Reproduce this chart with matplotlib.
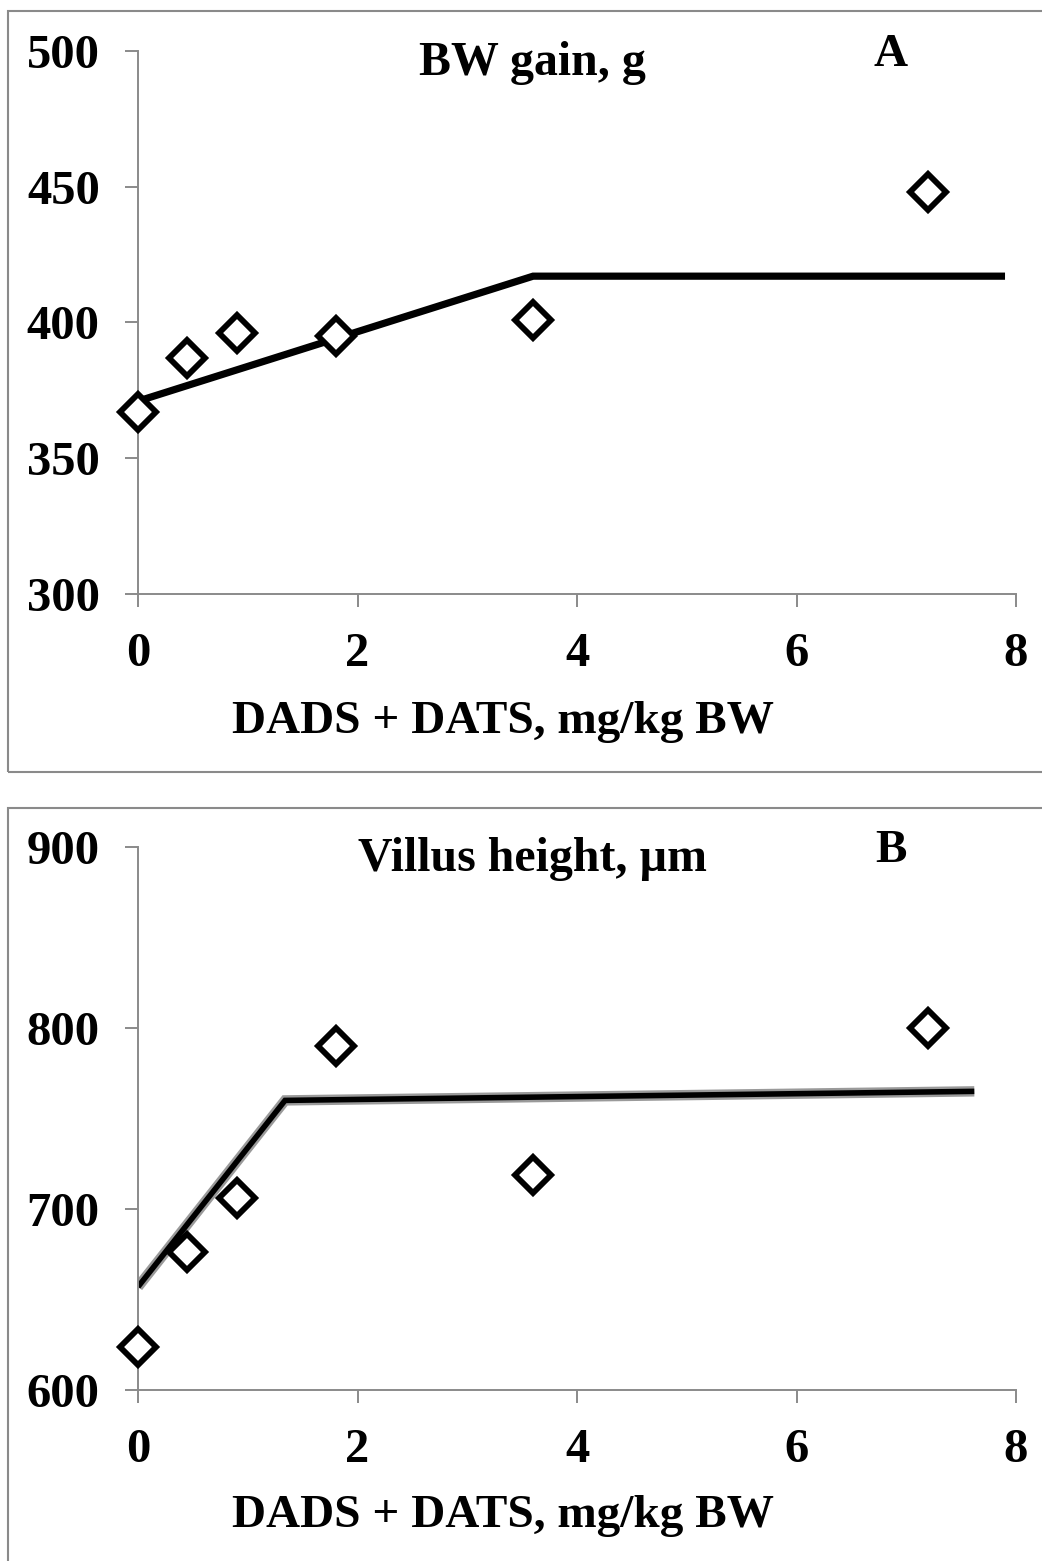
import matplotlib
matplotlib.use("Agg")
import matplotlib.pyplot as plt
from matplotlib.patches import Rectangle

# ---------------- data ----------------
dose = [0, 0.45, 0.9, 1.8, 3.6, 7.2]
bw_gain = [367, 387, 396, 395, 401, 448]
villus = [624, 676, 706, 790, 719, 800]

bw_fit_x = [0, 3.6, 7.9]
bw_fit_y = [371, 417, 417]
vh_fit_x = [0, 1.34, 7.62]
vh_fit_y = [657, 760, 765]

x_ticks = [0, 2, 4, 6, 8]
bw_ticks = [300, 350, 400, 450, 500]
vh_ticks = [600, 700, 800, 900]

xlabel = "DADS + DATS, mg/kg BW"
title_a = "BW gain, g"
title_b = "Villus height, µm"

# ---------------- figure ----------------
W, H = 1042, 1561
fig = plt.figure(figsize=(W / 100, H / 100), dpi=100)
FONT = "Liberation Serif"
GRAY = "#8a8a8a"

def fx(px):
    return px / W

def fy(py):
    return 1 - py / H

def make_axes(top_px, bottom_px):
    ax = fig.add_axes([fx(138), fy(bottom_px), fx(1016) - fx(138), fy(top_px) - fy(bottom_px)])
    for s in ("top", "right"):
        ax.spines[s].set_visible(False)
    for s in ("left", "bottom"):
        ax.spines[s].set_color(GRAY)
        ax.spines[s].set_linewidth(1.4)
    ax.tick_params(direction="out", length=9.5, width=1.4, color=GRAY,
                   labelsize=35, pad=18)
    ax.set_xlim(0, 8)
    ax.set_xticks(x_ticks)
    return ax

def style_ticks(ax):
    for lab in ax.get_xticklabels() + ax.get_yticklabels():
        lab.set_fontfamily(FONT)
        lab.set_fontweight("bold")

# Panel borders
fig.patches.append(Rectangle((fx(8), fy(772)), 1.2, fy(11) - fy(772),
                             transform=fig.transFigure, fill=False,
                             edgecolor=GRAY, linewidth=1.5))
fig.patches.append(Rectangle((fx(8), -0.1), 1.2, fy(808) + 0.1,
                             transform=fig.transFigure, fill=False,
                             edgecolor=GRAY, linewidth=1.5))

MK = dict(linestyle="none", marker="D", markersize=18,
          markerfacecolor="white", markeredgecolor="black",
          markeredgewidth=4.2, zorder=3, clip_on=False)

# ---- Panel A ----
axA = make_axes(50.7, 594)
axA.set_ylim(300, 500)
axA.set_yticks(bw_ticks)
axA.set_xticks(x_ticks)
style_ticks(axA)
axA.plot(bw_fit_x, bw_fit_y, color="black", linewidth=5.2,
         solid_joinstyle="miter", solid_capstyle="butt", zorder=2)
axA.plot(dose, bw_gain, **MK)

fig.text(fx(532), fy(75), title_a, ha="center", va="baseline",
         fontsize=34.5, fontweight="bold", family=FONT)
fig.text(fx(891), fy(66), "A", ha="center", va="baseline",
         fontsize=34, fontweight="bold", family=FONT)
fig.text(fx(503), fy(733), xlabel, ha="center", va="baseline",
         fontsize=34, fontweight="bold", family=FONT)

# ---- Panel B ----
axB = make_axes(847, 1390)
axB.set_ylim(600, 900)
axB.set_yticks(vh_ticks)
axB.set_xticks(x_ticks)
style_ticks(axB)
axB.plot(vh_fit_x, vh_fit_y, color="#9a9a9a", linewidth=7.5,
         solid_joinstyle="miter", solid_capstyle="butt", zorder=2)
axB.plot(vh_fit_x, vh_fit_y, color="black", linewidth=4.0,
         solid_joinstyle="miter", solid_capstyle="butt", zorder=2)
axB.plot(dose, villus, **MK)

fig.text(fx(533), fy(871), title_b, ha="center", va="baseline",
         fontsize=34.5, fontweight="bold", family=FONT)
fig.text(fx(891), fy(862), "B", ha="center", va="baseline",
         fontsize=34, fontweight="bold", family=FONT)
fig.text(fx(503), fy(1527), xlabel, ha="center", va="baseline",
         fontsize=34, fontweight="bold", family=FONT)

fig.savefig("out.png", dpi=100, facecolor="white")
